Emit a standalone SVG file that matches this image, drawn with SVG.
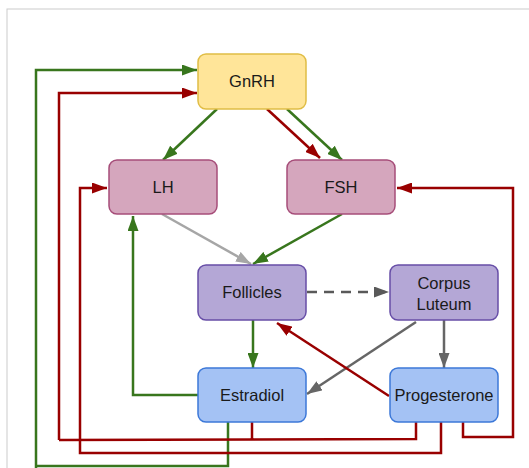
<svg xmlns="http://www.w3.org/2000/svg" width="529" height="468" viewBox="0 0 529 468">
<style>
.t{font-family:"Liberation Sans",Arial,sans-serif;font-size:16.5px;fill:#1a1a1a;text-anchor:middle}
.c{fill:none;stroke-width:2.5;stroke-linejoin:miter}
.g{stroke:#38761d}
.r{stroke:#990000}
.lg{stroke:#a6a6a6}
.dg{stroke:#666666}
.y{fill:#ffe599;stroke:#e0bd45;stroke-width:1.5}
.p{fill:#d5a6bd;stroke:#a64d79;stroke-width:1.5}
.v{fill:#b4a7d6;stroke:#674ea7;stroke-width:1.5}
.b{fill:#a4c2f4;stroke:#3c78d8;stroke-width:1.5}
</style>
<defs>
<marker id="ag" markerUnits="userSpaceOnUse" markerWidth="15" markerHeight="11" refX="15" refY="5.5" orient="auto"><path d="M0,0 L15,5.5 L0,11 z" fill="#38761d"/></marker>
<marker id="ar" markerUnits="userSpaceOnUse" markerWidth="15" markerHeight="11" refX="15" refY="5.5" orient="auto"><path d="M0,0 L15,5.5 L0,11 z" fill="#990000"/></marker>
<marker id="alg" markerUnits="userSpaceOnUse" markerWidth="15" markerHeight="11" refX="15" refY="5.5" orient="auto"><path d="M0,0 L15,5.5 L0,11 z" fill="#a6a6a6"/></marker>
<marker id="adg" markerUnits="userSpaceOnUse" markerWidth="15" markerHeight="11" refX="15" refY="5.5" orient="auto"><path d="M0,0 L15,5.5 L0,11 z" fill="#666666"/></marker>
<marker id="ad" markerUnits="userSpaceOnUse" markerWidth="15" markerHeight="11" refX="15" refY="5.5" orient="auto"><path d="M0,0 L15,5.5 L0,11 z" fill="#595959"/></marker>
</defs>
<rect x="0" y="0" width="529" height="468" fill="#ffffff"/>
<rect x="7" y="9" width="540" height="480" fill="none" stroke="#cccccc" stroke-width="1"/>
<g id="connectors">
<path class="c g" d="M36,468 L36,70 L197,70" marker-end="url(#ag)"/>
<path class="c g" d="M228,422 L228,466 L36,466"/>
<path class="c r" d="M59,440 L59,93 L197,93" marker-end="url(#ar)"/>
<path class="c r" d="M252,422 L252,439 M416,422 L416,439 L59,440"/>
<path class="c r" d="M441,422 L441,453 L80,453 L80,188 L107,188" marker-end="url(#ar)"/>
<path class="c r" d="M463,422 L463,437 L513,437 L513,188 L397,188" marker-end="url(#ar)"/>
<path class="c g" d="M217,109 L163,160" marker-end="url(#ag)"/>
<path class="c r" d="M267,109 L320,158" marker-end="url(#ar)"/>
<path class="c g" d="M287,109 L342,160" marker-end="url(#ag)"/>
<path class="c lg" d="M162,214 L251,264" marker-end="url(#alg)"/>
<path class="c g" d="M342,214 L253,264" marker-end="url(#ag)"/>
<path class="c" stroke="#595959" stroke-dasharray="10,7" d="M307,292 L389,292" marker-end="url(#ad)"/>
<path class="c g" d="M253,320 L253,368" marker-end="url(#ag)"/>
<path class="c dg" d="M416,322 L307,394" marker-end="url(#adg)"/>
<path class="c dg" d="M444,320 L444,368" marker-end="url(#adg)"/>
<path class="c r" d="M389,396 L277,323" marker-end="url(#ar)"/>
<path class="c g" d="M198,395 L133,395 L133,216" marker-end="url(#ag)"/>
</g>
<g id="GnRH"><rect class="y" x="198" y="54" width="108" height="55" rx="8"/><text class="t" x="252" y="87">GnRH</text></g>
<g id="LH"><rect class="p" x="109" y="160" width="108" height="54" rx="8"/><text class="t" x="163" y="193">LH</text></g>
<g id="FSH"><rect class="p" x="287" y="160" width="108" height="54" rx="8"/><text class="t" x="341" y="193">FSH</text></g>
<g id="Follicles"><rect class="v" x="198" y="265" width="108" height="55" rx="8"/><text class="t" x="252" y="298">Follicles</text></g>
<g id="CorpusLuteum"><rect class="v" x="390" y="265" width="108" height="55" rx="8"/><text class="t" x="444" y="289">Corpus</text><text class="t" x="444" y="310">Luteum</text></g>
<g id="Estradiol"><rect class="b" x="198" y="368" width="108" height="54" rx="8"/><text class="t" x="252" y="401">Estradiol</text></g>
<g id="Progesterone"><rect class="b" x="390" y="368" width="108" height="54" rx="8"/><text class="t" x="444" y="401">Progesterone</text></g>
</svg>
